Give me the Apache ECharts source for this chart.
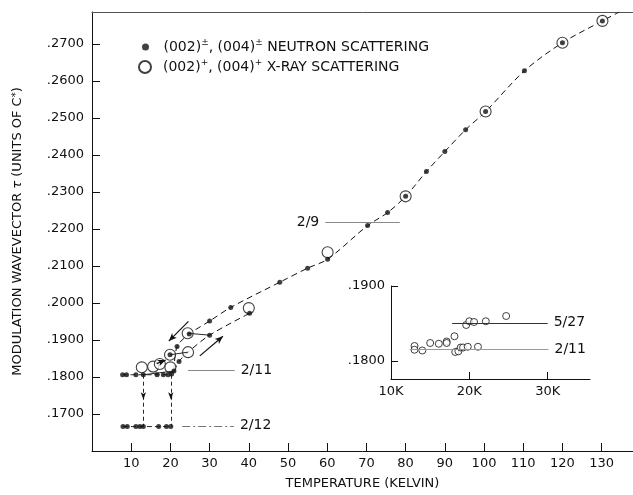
<!DOCTYPE html>
<html>
<head>
<meta charset="utf-8">
<script src="https://cdn.jsdelivr.net/npm/echarts@6/dist/echarts.min.js"></script>
<style>
html, body { margin: 0; padding: 0; background: #fff; }
#chart { width: 633px; height: 495px; }
</style>
</head>
<body>
<div id="chart"></div>
<script>
// [temperature K, tau]
const neutronPlateau = [[7.8, .1806], [8.8, .1806], [11.2, .1806], [13.1, .1806], [16.6, .1806], [18.2, .1806], [19.4, .1806], [20.3, .1808]]
const neutronLow = [[7.9, .1666], [9.0, .1666], [11.2, .1666], [12.2, .1666], [13.1, .1666], [17.0, .1666], [19.0, .1666], [20.1, .1666]]
const neutronUpper = [[21.7, .1882], [24.8, .1916], [30, .1951], [35.4, .1988], [47.9, .2056], [55, .2094], [60.1, .2118], [70.3, .2209], [75.4, .2244], [80, .2288], [85.3, .2355], [90, .2409], [95.3, .2468], [100.4, .2517], [110.3, .2627], [120, .2703], [130.2, .2762]]
const neutronLower = [[19.9, .1860], [20.9, .1816], [22.2, .1842], [30, .1913], [40.2, .1972]]
const xrayMain = [[12.7, .1826], [15.6, .1828], [17.3, .1835], [20.0, .1826], [19.9, .1860], [24.5, .1867], [24.4, .1918], [40, .1986], [60.1, .2137], [80, .2288], [100.4, .2517], [120, .2703], [130.2, .2762]]

// dashed guide curves
const upperCurve = [[20.9, .1816], [21.7, .1882], [24.8, .1916], [30, .1951], [35.4, .1988], [47.9, .2056], [55, .2094], [60.1, .2118], [70.3, .2209], [75.4, .2244], [80, .2288], [85.3, .2355], [90, .2409], [95.3, .2468], [100.4, .2517], [110.3, .2627], [120, .2703], [130.2, .2762], [134.5, .2786]]
const lowerCurve = [[20.9, .1816], [22.2, .1842], [24.5, .1867], [30, .1913], [40.2, .1972]]

// inset (x-ray only)
const xrayInset = [[13.0, .1820], [13.0, .1815], [14.0, .1814], [15.0, .1824], [16.1, .1823], [17.1, .1826], [17.1, .1824], [18.1, .1833], [18.2, .1812], [18.6, .1813], [18.9, .1818], [19.2, .1818], [19.8, .1819], [21.1, .1819], [19.6, .1848], [20.0, .1853], [20.6, .1852], [22.1, .1853], [24.7, .1860]]

// dated reference levels: [label, T from, T to, tau]
const refMain = [['2/9', 59.5, 78.5, .2218], ['2/11', 24.5, 36.4, .1819], ['2/12', 23.0, 36.2, .1668]]
const refInset = [['5/27', 17.8, 30.0, .1851], ['2/11', 12.4, 30.1, .1816]]

// arrows [from, to]
const arrows = [[[24.6, .1950], [19.6, .1897]], [[27.5, .1857], [33.4, .1910]], [[16.5, .1836], [18.8, .1846]]]
const jumps = [13.1, 20.1]
const solidLinks = [[[24.4, .1918], [30, .1913]], [[19.9, .1860], [24.5, .1867]], [[13.1, .1806], [20.9, .1816]]]

const xTicks = [10, 20, 30, 40, 50, 60, 70, 80, 90, 100, 110, 120, 130]
const insetXTicks = [10, 20, 30]
const insetYTicks = [.18, .19]

const FONT = 'DejaVu Sans'
const INK = '#111'

const chart = echarts.init(document.getElementById('chart'))

const tauLabel = v => v.toFixed(4).slice(1)

const refLine = (r, pos, style) => [
  { coord: [r[1], r[3]], symbol: 'none', lineStyle: style,
    label: { show: true, position: pos, formatter: r[0], fontSize: 14, color: INK, fontFamily: FONT, distance: 6 } },
  { coord: [r[2], r[3]], symbol: 'none' }
]

const mainMarks = []
refMain.forEach((r, i) => {
  const style = i === 2
    ? { color: '#777', width: 1, type: [8, 3, 2, 3] }
    : { color: '#888', width: 1, type: 'solid' }
  mainMarks.push(refLine(r, i === 0 ? 'start' : 'end', style))
})
arrows.forEach(a => mainMarks.push([
  { coord: a[0], symbol: 'none', lineStyle: { color: INK, width: 1.2, type: 'solid' } },
  { coord: a[1], symbol: 'arrow', symbolSize: [5, 8] }
]))
solidLinks.forEach(a => mainMarks.push([
  { coord: a[0], symbol: 'none', lineStyle: { color: INK, width: 0.9, type: 'solid' } },
  { coord: a[1], symbol: 'none' }
]))
jumps.forEach(t => {
  mainMarks.push([
    { coord: [t, .1806], symbol: 'none', lineStyle: { color: INK, width: 0.9, type: [4, 3] } },
    { coord: [t, .1666], symbol: 'none' }
  ])
  mainMarks.push([
    { coord: [t, .1752], symbol: 'none', lineStyle: { color: INK, width: 1.2, type: 'solid' } },
    { coord: [t, .1740], symbol: 'arrow', symbolSize: [4, 7] }
  ])
})

const insetMarks = refInset.map((r, i) => refLine(r, 'end', { color: i === 0 ? '#333' : '#999', width: 1, type: 'solid' }))

const option = {
  animation: false,
  backgroundColor: '#fff',
  textStyle: { fontFamily: FONT, color: INK },
  grid: [
    { left: 92, top: 12, width: 541, height: 440 },
    { left: 391, top: 286, width: 199, height: 93 }
  ],
  legend: [
    {
      data: ['neutron'], left: 137, top: 33, itemWidth: 26, itemHeight: 7,
      formatter: () => '(002){s|±}, (004){s|±} NEUTRON SCATTERING',
      textStyle: { fontFamily: FONT, fontSize: 14, color: INK, lineHeight: 18,
        rich: { s: { fontSize: 9, verticalAlign: 'top', lineHeight: 18, fontFamily: FONT } } }
    },
    {
      data: ['xray'], left: 133, top: 53, itemWidth: 26, itemHeight: 12,
      formatter: () => '(002){s|+}, (004){s|+} X-RAY SCATTERING',
      textStyle: { fontFamily: FONT, fontSize: 14, color: INK, lineHeight: 18,
        rich: { s: { fontSize: 9, verticalAlign: 'top', lineHeight: 18, fontFamily: FONT } } }
    }
  ],
  xAxis: [
    {
      gridIndex: 0, type: 'value', min: 0, max: 138, interval: 10,
      name: 'TEMPERATURE (KELVIN)', nameLocation: 'middle', nameGap: 26,
      nameTextStyle: { fontSize: 13, color: INK, fontFamily: FONT },
      axisLine: { lineStyle: { color: INK, width: 1 } },
      axisTick: { inside: true, length: 8, lineStyle: { color: INK }, customValues: xTicks },
      axisLabel: { customValues: xTicks, fontSize: 13, color: INK, margin: 6, fontFamily: FONT },
      splitLine: { show: false }
    },
    {
      gridIndex: 0, type: 'value', position: 'top', min: 0, max: 138,
      axisLine: { lineStyle: { color: '#555', width: 1 } },
      axisTick: { show: false }, axisLabel: { show: false }, splitLine: { show: false }
    },
    {
      gridIndex: 1, type: 'value', min: 10, max: 35.4,
      axisLine: { lineStyle: { color: INK, width: 1 } },
      axisTick: { inside: true, length: 7, lineStyle: { color: INK }, customValues: insetXTicks },
      axisLabel: { customValues: insetXTicks, formatter: v => v + 'K', fontSize: 13, color: INK, margin: 6, fontFamily: FONT },
      splitLine: { show: false }
    }
  ],
  yAxis: [
    {
      gridIndex: 0, type: 'value', min: .16, max: .2786, interval: .01,
      name: 'MODULATION WAVEVECTOR {i|τ} (UNITS OF C{s|*})', nameLocation: 'middle', nameGap: 68,
      nameTextStyle: { fontSize: 13, color: INK, fontFamily: FONT,
        rich: { i: { fontStyle: 'italic', fontSize: 13, fontFamily: FONT }, s: { fontSize: 10, verticalAlign: 'top', fontFamily: FONT } } },
      axisLine: { lineStyle: { color: INK, width: 1 } },
      axisTick: { inside: true, length: 8, lineStyle: { color: INK } },
      axisLabel: { formatter: tauLabel, showMinLabel: false, showMaxLabel: false, fontSize: 13, color: INK, margin: 8, fontFamily: FONT },
      splitLine: { show: false }
    },
    {
      gridIndex: 1, type: 'value', min: .1776, max: .19,
      axisLine: { lineStyle: { color: INK, width: 1 } },
      axisTick: { inside: true, length: 7, lineStyle: { color: INK }, customValues: insetYTicks },
      axisLabel: { customValues: insetYTicks, formatter: tauLabel, fontSize: 13, color: INK, margin: 6, fontFamily: FONT },
      splitLine: { show: false }
    }
  ],
  series: [
    {
      name: 'upper', type: 'line', xAxisIndex: 0, yAxisIndex: 0, data: upperCurve,
      smooth: 0.3, showSymbol: false, symbol: 'none', silent: true,
      lineStyle: { color: INK, width: 1, type: [6, 4] }, z: 2
    },
    {
      name: 'lower', type: 'line', xAxisIndex: 0, yAxisIndex: 0, data: lowerCurve,
      smooth: 0.3, showSymbol: false, symbol: 'none', silent: true,
      lineStyle: { color: INK, width: 1, type: [6, 4] }, z: 2
    },
    {
      name: 'plateau', type: 'line', xAxisIndex: 0, yAxisIndex: 0, data: neutronPlateau,
      showSymbol: false, symbol: 'none', silent: true,
      lineStyle: { color: INK, width: 0.9, type: [5, 3] }, z: 2
    },
    {
      name: 'low', type: 'line', xAxisIndex: 0, yAxisIndex: 0, data: neutronLow,
      showSymbol: false, symbol: 'none', silent: true,
      lineStyle: { color: INK, width: 0.9, type: [5, 3] }, z: 2
    },
    {
      name: 'xray', type: 'scatter', xAxisIndex: 0, yAxisIndex: 0, data: xrayMain,
      symbol: 'circle', symbolSize: 11,
      itemStyle: { color: '#fff', borderColor: INK, borderWidth: 1.1 }, z: 3,
      markLine: { silent: true, symbol: ['none', 'none'], label: { show: false }, data: mainMarks }
    },
    {
      name: 'neutron', type: 'scatter', xAxisIndex: 0, yAxisIndex: 0,
      data: neutronPlateau.concat(neutronLow, neutronUpper, neutronLower),
      symbol: 'circle', symbolSize: 5, itemStyle: { color: INK }, z: 4
    },
    {
      name: 'xrayInset', type: 'scatter', xAxisIndex: 2, yAxisIndex: 1, data: xrayInset,
      symbol: 'circle', symbolSize: 7,
      itemStyle: { color: '#fff', borderColor: INK, borderWidth: 1 }, z: 3,
      markLine: { silent: true, symbol: ['none', 'none'], label: { show: false }, data: insetMarks }
    }
  ]
}

chart.setOption(option)
</script>
</body>
</html>
